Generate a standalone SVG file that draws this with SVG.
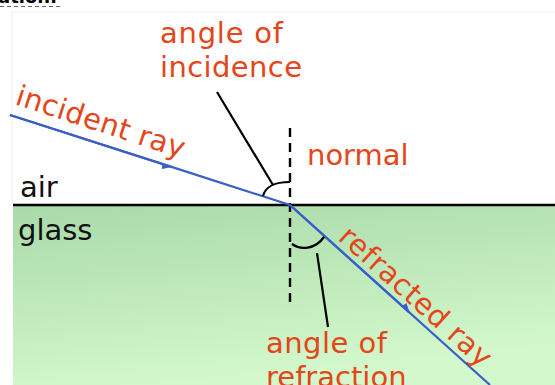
<svg xmlns="http://www.w3.org/2000/svg" width="555" height="385" viewBox="0 0 555 385">
<defs>
<linearGradient id="glassGrad" x1="0" y1="0" x2="0.3" y2="1">
<stop offset="0" stop-color="#a9daa9"/>
<stop offset="1" stop-color="#d3f8cb"/>
</linearGradient>
<marker id="barb" viewBox="0 0 10 10" refX="9" refY="5" markerWidth="10" markerHeight="10" markerUnits="userSpaceOnUse" orient="auto">
<path d="M0,5 L10,5 L1,10 Z" fill="#3a5fc6"/>
</marker>
<marker id="barb2" viewBox="0 0 10 10" refX="9" refY="5" markerWidth="10" markerHeight="10" markerUnits="userSpaceOnUse" orient="auto">
<path d="M0,5 L10,5 L1,0 Z" fill="#3a5fc6"/>
</marker>
</defs>
<style>
.lbl{font-family:"DejaVu Sans","Liberation Sans",sans-serif;font-size:29px;fill:#e4461a}
.blk{font-family:"DejaVu Sans","Liberation Sans",sans-serif;font-size:29px;fill:#111}
.ray{stroke:#3a5fc6;stroke-width:2.2;fill:none}
.lead{stroke:#000;stroke-width:2.2;fill:none}
</style>
<rect x="0" y="0" width="555" height="385" fill="#fff"/>
<text x="-2" y="3" style="font-family:'DejaVu Sans',sans-serif;font-size:18px;font-weight:bold;fill:#000">ation:</text>
<line x1="0" y1="6.5" x2="60" y2="6.5" stroke="#666" stroke-width="1" stroke-dasharray="4,3"/>
<line x1="12" y1="12" x2="555" y2="12" stroke="#eeeeee" stroke-width="1"/>
<line x1="12" y1="12" x2="12" y2="204" stroke="#eeeeee" stroke-width="1"/>
<g id="glass">
<rect x="13" y="205" width="542" height="180" fill="url(#glassGrad)"/>
<text class="blk" x="18" y="240">glass</text>
</g>
<g id="air">
<text class="blk" x="20" y="197">air</text>
</g>
<g id="surface">
<line x1="13" y1="205" x2="555" y2="205" stroke="#000" stroke-width="2.6"/>
</g>
<g id="normal">
<line x1="290" y1="128" x2="290" y2="302" stroke="#000" stroke-width="2.4" stroke-dasharray="9,6"/>
<text class="lbl" x="307" y="165">normal</text>
</g>
<g id="connectors">
<path class="ray" d="M10,115 L170,166.4"/>
<path class="ray" d="M170,166.4 L290,205 L490,385"/>
<path class="ray" marker-end="url(#barb2)" d="M290,205 L409,312.1"/>
<path class="lead" d="M263,196 C265,187 275,182 290,182"/>
<line class="lead" x1="217" y1="92" x2="273" y2="185"/>
<path class="lead" d="M292,244 C300,250 315,250 324,237"/>
<line class="lead" x1="317" y1="253" x2="328" y2="327"/>
<path class="ray" marker-end="url(#barb)" d="M10,115 L171,166.7"/>
</g>
<g id="incident-ray">
<text class="lbl" x="14" y="104" transform="rotate(18 14 104)" textLength="176">incident ray</text>
</g>
<g id="refracted-ray">
<text class="lbl" x="337" y="239" transform="rotate(42 337 239)" textLength="194">refracted ray</text>
</g>
<g id="angle-incidence">
<text class="lbl" x="160" y="43" textLength="123">angle of</text>
<text class="lbl" x="160" y="77" textLength="142">incidence</text>
</g>
<g id="angle-refraction">
<text class="lbl" x="266" y="353" textLength="121">angle of</text>
<text class="lbl" x="266" y="387">refraction</text>
</g>
</svg>
